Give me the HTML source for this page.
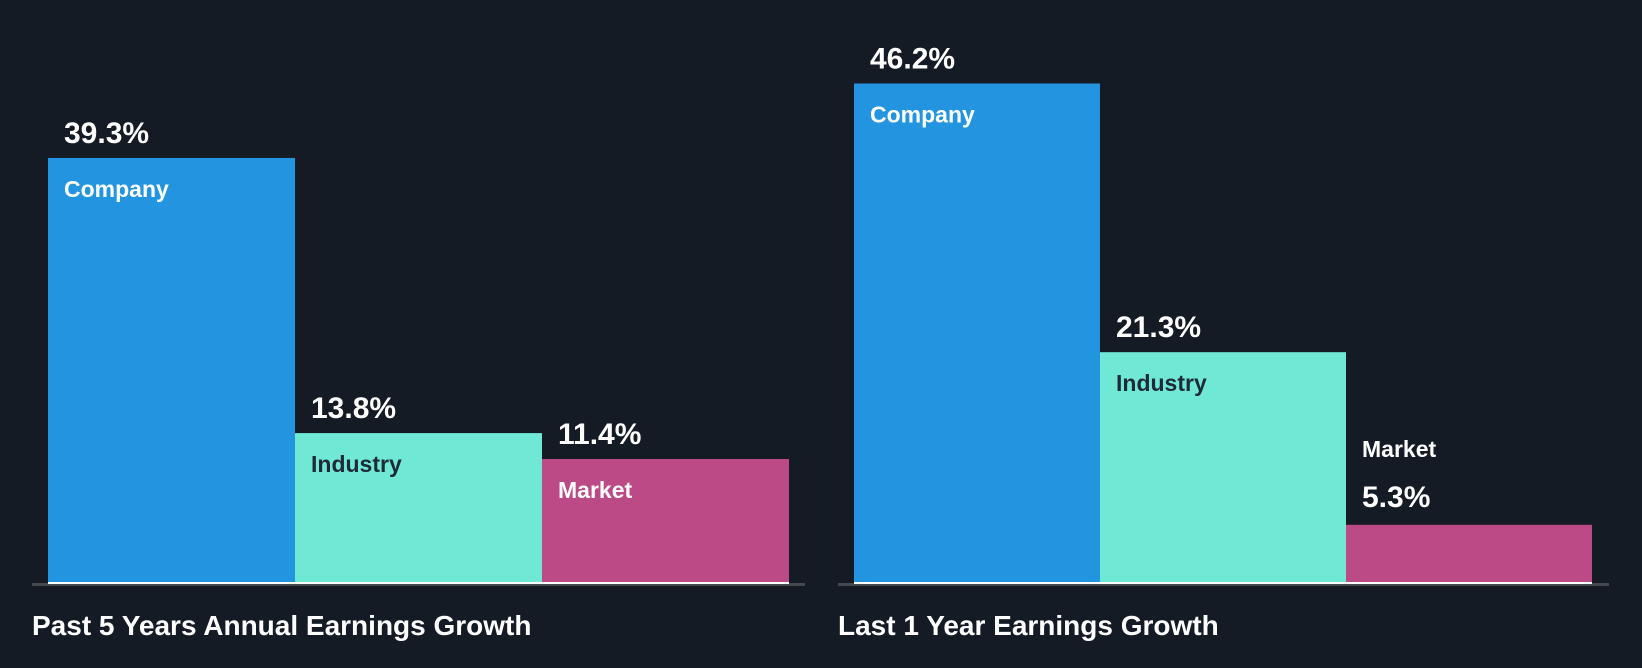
<!DOCTYPE html>
<html><head><meta charset="utf-8"><style>
html,body{margin:0;padding:0;background:#151b24;}
svg{display:block;font-family:"Liberation Sans",Arial,sans-serif;}
</style></head><body>
<svg id="chart" width="1642" height="668" viewBox="0 0 1642 668">
<rect x="0" y="0" width="1642" height="668" fill="#151b24"/>
</svg>
<script>
const categories = ["Company", "Industry", "Market"];
const past5Values = [39.3, 13.8, 11.4];
const last1Values = [46.2, 21.3, 5.3];
const panelTitles = ["Past 5 Years Annual Earnings Growth", "Last 1 Year Earnings Growth"];

const svg = document.getElementById('chart');
const NS = 'http://www.w3.org/2000/svg';
const colors = ["#2394df", "#6fe8d6", "#bb4a87"];
const catText = ["#ffffff", "#1f2a36", "#ffffff"];
const baseY = 582;
const pxPer = 10.79;
function yScale(v){ return baseY - v * pxPer; }
function mk(tag, attrs){ const e = document.createElementNS(NS, tag); for (const k in attrs) e.setAttribute(k, attrs[k]); svg.appendChild(e); return e; }

const panels = [
  {x0: 48, bw: 247, ax0: 32, ax1: 805, tx: 32, vals: past5Values, title: panelTitles[0]},
  {x0: 854, bw: 246, ax0: 838, ax1: 1609, tx: 838, vals: last1Values, title: panelTitles[1]}
];
panels.forEach((p, pi) => {
  const axis = mk('rect', {x: p.ax0, y: 583, width: p.ax1 - p.ax0, height: 3, fill: '#44484f'});
  
  
  p.vals.forEach((v, i) => {
    const x = p.x0 + i * p.bw;
    const top = yScale(v);
    const bar = mk('rect', {x: x, y: top, width: p.bw, height: baseY - top, fill: colors[i]});
    
    
    const base = mk('rect', {x: x, y: baseY, width: p.bw, height: 2, fill: '#ffffff'});
    
    
    const inside = (baseY - top) > 60;
    const valY = inside ? top - 15 : top - 18;
    const catY = inside ? top + 39 : top - 68;
    const vt = mk('text', {x: x + 16, y: valY, fill: '#ffffff', 'font-size': 30, 'font-weight': 'bold'});
    vt.textContent = v.toFixed(1) + '%';
    
    
    const ct = mk('text', {x: x + 16, y: catY, fill: inside ? catText[i] : '#ffffff', 'font-size': 23, 'font-weight': 'bold'});
    ct.textContent = categories[i];
    
    
  });
  const t = mk('text', {x: p.tx, y: 635, fill: '#ffffff', 'font-size': 28, 'font-weight': 'bold'});
  t.textContent = p.title;
  
  
});
</script>
</body></html>
